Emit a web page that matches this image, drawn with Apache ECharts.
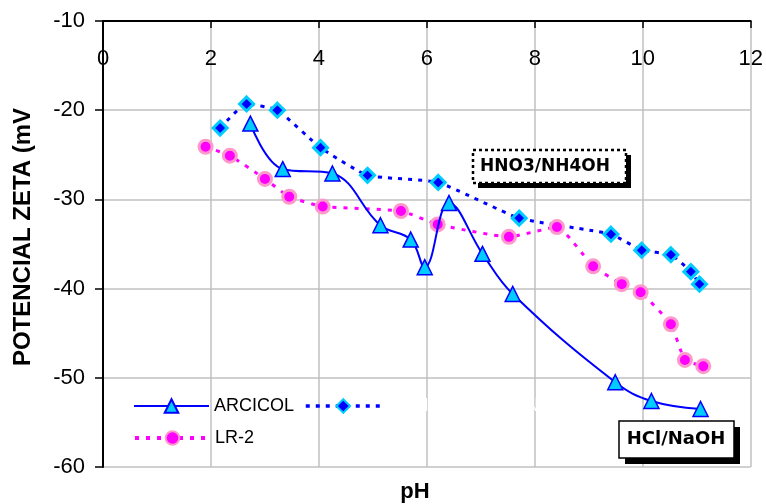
<!DOCTYPE html>
<html><head><meta charset="utf-8">
<script src="https://cdn.jsdelivr.net/npm/echarts@6/dist/echarts.min.js"></script>
<style>html,body{margin:0;padding:0;background:#fff}#c{width:766px;height:504px}</style>
</head><body><div id="c"></div>
<script>
// ---- data ----
var arcicolPH = [2.73, 3.33, 4.25, 5.14, 5.70, 5.96, 6.41, 7.03, 7.59, 9.49, 10.16, 11.07];
var arcicolZ  = [-21.5, -26.6, -27.1, -32.9, -34.5, -37.6, -30.4, -36.1, -40.6, -50.5, -52.6, -53.5];
var nitricPH  = [2.17, 2.66, 3.23, 4.03, 4.90, 6.21, 7.71, 9.41, 9.98, 10.52, 10.89, 11.05];
var nitricZ   = [-22.0, -19.3, -20.0, -24.2, -27.3, -28.1, -32.1, -33.9, -35.7, -36.2, -38.1, -39.5];
var lr2PH     = [1.90, 2.35, 3.00, 3.45, 4.07, 5.52, 6.20, 7.52, 8.41, 9.08, 9.61, 9.96, 10.52, 10.78, 11.12];
var lr2Z      = [-24.1, -25.1, -27.7, -29.7, -30.8, -31.3, -32.8, -34.2, -33.1, -37.5, -39.5, -40.4, -44.0, -48.0, -48.7];
var seriesNames = ['ARCICOL', 'ARCICOL HNO3/NH4OH', 'LR-2'];
var xTicks = {min: 0, max: 12, step: 2};
var yTicks = {min: -60, max: -10, step: 10};
var yTitle = 'POTENCIAL ZETA (mV';
var xTitle = 'pH';
var note1 = 'HNO3/NH4OH';
var note2 = 'HCl/NaOH';

function pairs(xs, ys){ return xs.map(function(x,i){ return [x, ys[i]]; }); }

var FONT = '"Liberation Sans", Arial, sans-serif';
var chart = echarts.init(document.getElementById('c'), null, {renderer:'canvas'});
chart.setOption({
  animation: false,
  backgroundColor: '#fff',
  grid: {left: 103, top: 21, right: 15, bottom: 37, containLabel: false},
  xAxis: {
    type: 'value', position: 'top', min: xTicks.min, max: xTicks.max, interval: xTicks.step,
    axisLine: {show: true, onZero: false, lineStyle: {color: '#000', width: 2}},
    axisTick: {show: true, inside: true, length: 7, lineStyle: {color: '#000', width: 1.5}},
    axisLabel: {inside: true, margin: 27, color: '#000', fontSize: 22, fontFamily: FONT},
    splitLine: {show: true, lineStyle: {color: '#c0c0c0', width: 1.5}}
  },
  yAxis: {
    type: 'value', min: yTicks.min, max: yTicks.max, interval: yTicks.step,
    axisLine: {show: true, onZero: false, lineStyle: {color: '#000', width: 2}},
    axisTick: {show: true, inside: false, length: 8, lineStyle: {color: '#000', width: 1.5}},
    axisLabel: {margin: 18, color: '#000', fontSize: 22, fontFamily: FONT},
    splitLine: {show: true, lineStyle: {color: '#c0c0c0', width: 1.5}}
  },
  legend: [
    {data: [{name: seriesNames[0], lineStyle: {width: 2}},
            {name: seriesNames[1], textStyle: {color: '#ffffff'}, lineStyle: {width: 3.5}}],
     left: 133, top: 397, itemWidth: 75, itemHeight: 17, itemGap: 10, padding: 0,
     textStyle: {color: '#000', fontSize: 18, fontFamily: FONT}},
    {data: [{name: seriesNames[2], lineStyle: {width: 4}}],
     left: 133, top: 429, itemWidth: 75, itemHeight: 17, itemGap: 10, padding: 0,
     textStyle: {color: '#000', fontSize: 18, fontFamily: FONT}}
  ],
  series: [
    {name: seriesNames[1], type: 'line', data: pairs(nitricPH, nitricZ), smooth: 0.15,
     symbol: 'diamond', symbolSize: 14,
     lineStyle: {color: '#0000ff', width: 3, type: [4, 6]},
     itemStyle: {color: '#0000ff', borderColor: '#00ccff', borderWidth: 3}, z: 2},
    {name: seriesNames[2], type: 'line', data: pairs(lr2PH, lr2Z), smooth: 0.15,
     symbol: 'circle', symbolSize: 13,
     lineStyle: {color: '#ff00ff', width: 3, type: [4, 7]},
     itemStyle: {color: '#ff00ff', borderColor: '#ff99cc', borderWidth: 3}, z: 3},
    {name: seriesNames[0], type: 'line', data: pairs(arcicolPH, arcicolZ), smooth: 0.4,
     symbol: 'triangle', symbolSize: 15,
     lineStyle: {color: '#0000ff', width: 2, type: 'solid'},
     itemStyle: {color: '#00ccff', borderColor: '#0000ff', borderWidth: 1.5}, z: 4}
  ],
  graphic: [
    {type: 'text', x: 23, y: 237, rotation: Math.PI / 2, z: 10,
     style: {text: yTitle, font: 'bold 24px ' + FONT, fill: '#000', align: 'center', verticalAlign: 'middle'}},
    {type: 'text', x: 415, y: 492, z: 10,
     style: {text: xTitle, font: 'bold 22px ' + FONT, fill: '#000', align: 'center', verticalAlign: 'middle'}},
    {type: 'rect', shape: {x: 478, y: 155, width: 153, height: 33}, z: 20,
     style: {fill: '#000'}},
    {type: 'rect', shape: {x: 473, y: 150, width: 153, height: 33}, z: 21,
     style: {fill: '#fff', stroke: '#000', lineWidth: 2.5, lineDash: [3, 3]}},
    {type: 'text', x: 545, y: 167, z: 22,
     style: {text: note1, font: 'bold 17px "DejaVu Sans", sans-serif', fill: '#000', align: 'center', verticalAlign: 'middle'}},
    {type: 'rect', shape: {x: 625, y: 427, width: 115, height: 37}, z: 20,
     style: {fill: '#000'}},
    {type: 'rect', shape: {x: 619, y: 421, width: 115, height: 37}, z: 21,
     style: {fill: '#fff', stroke: '#000', lineWidth: 1.5}},
    {type: 'text', x: 676, y: 439, z: 22,
     style: {text: note2, font: 'bold 18px "DejaVu Sans", sans-serif', fill: '#000', align: 'center', verticalAlign: 'middle'}}
  ]
});
</script></body></html>
